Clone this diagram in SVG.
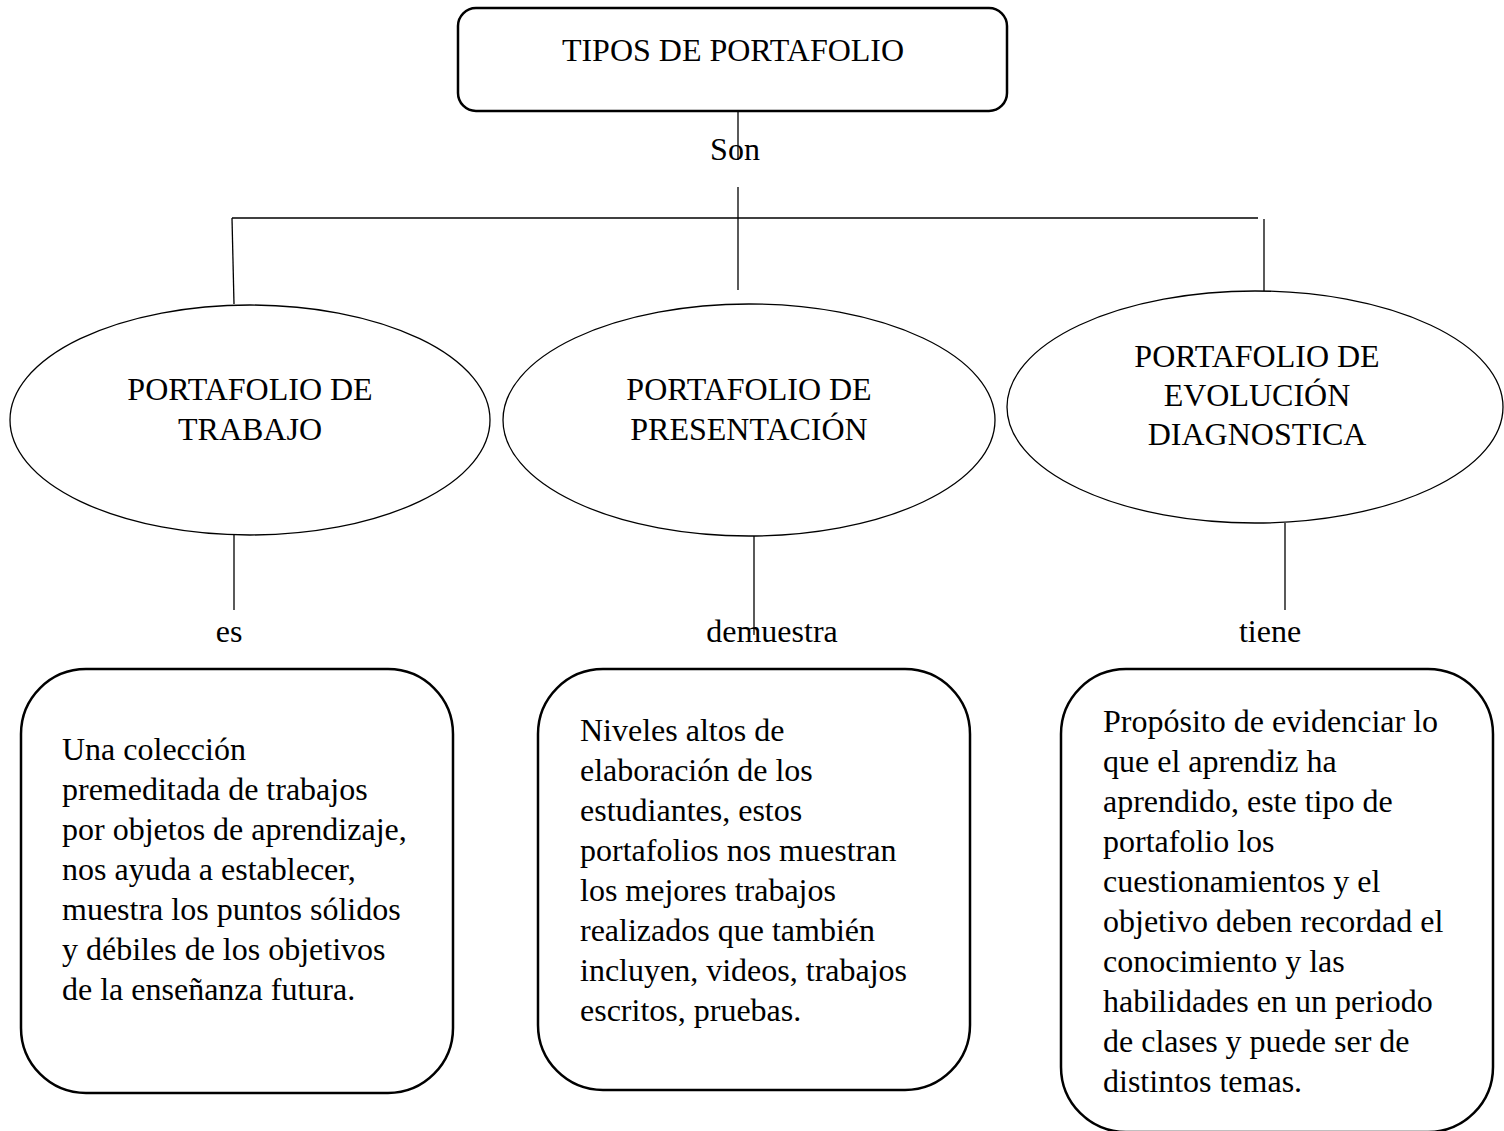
<svg xmlns="http://www.w3.org/2000/svg" width="1504" height="1131" viewBox="0 0 1504 1131">
<style>
text{font-family:"Liberation Serif","Times New Roman",serif;font-size:32px;fill:#000}
.c{text-anchor:middle}
.box{fill:#fff;stroke:#000;stroke-width:2.5}
.ell{fill:#fff;stroke:#000;stroke-width:1.3}
.ln{stroke:#000;stroke-width:1.3;fill:none}
</style>
<rect width="1504" height="1131" fill="#fff"/>
<g id="connectors">
<line class="ln" x1="738" y1="112" x2="738" y2="160"/>
<line class="ln" x1="738" y1="187" x2="738" y2="290"/>
<line class="ln" x1="232" y1="218" x2="1258" y2="218"/>
<line class="ln" x1="232" y1="218" x2="234" y2="304"/>
<line class="ln" x1="1264" y1="219" x2="1264" y2="291"/>
<line class="ln" x1="234" y1="535" x2="234" y2="610"/>
<line class="ln" x1="754" y1="536" x2="754" y2="635"/>
<line class="ln" x1="1285" y1="523" x2="1285" y2="610"/>
<text class="c" x="735" y="160">Son</text>
<text class="c" x="229" y="642">es</text>
<text class="c" x="772" y="642">demuestra</text>
<text class="c" x="1270" y="642">tiene</text>
</g>
<g id="root">
<rect class="box" x="458" y="8" width="549" height="103" rx="18"/>
<text class="c" x="733" y="61">TIPOS DE PORTAFOLIO</text>
</g>
<g id="trabajo">
<ellipse class="ell" cx="250" cy="420" rx="240" ry="115"/>
<text class="c" x="250" y="400">PORTAFOLIO DE</text>
<text class="c" x="250" y="440">TRABAJO</text>
</g>
<g id="presentacion">
<ellipse class="ell" cx="749" cy="420" rx="246" ry="116"/>
<text class="c" x="749" y="400">PORTAFOLIO DE</text>
<text class="c" x="749" y="440">PRESENTACIÓN</text>
</g>
<g id="evolucion">
<ellipse class="ell" cx="1255" cy="407" rx="248" ry="116"/>
<text class="c" x="1257" y="367">PORTAFOLIO DE</text>
<text class="c" x="1257" y="406">EVOLUCIÓN</text>
<text class="c" x="1257" y="445">DIAGNOSTICA</text>
</g>
<g id="desc-trabajo">
<rect class="box" x="21" y="669" width="432" height="424" rx="65"/>
<text x="62" y="760">Una colección</text>
<text x="62" y="800">premeditada de trabajos</text>
<text x="62" y="840">por objetos de aprendizaje,</text>
<text x="62" y="880">nos ayuda a establecer,</text>
<text x="62" y="920">muestra los puntos sólidos</text>
<text x="62" y="960">y débiles de los objetivos</text>
<text x="62" y="1000">de la enseñanza futura.</text>
</g>
<g id="desc-presentacion">
<rect class="box" x="538" y="669" width="432" height="421" rx="65"/>
<text x="580" y="741">Niveles altos de</text>
<text x="580" y="781">elaboración de los</text>
<text x="580" y="821">estudiantes, estos</text>
<text x="580" y="861">portafolios nos muestran</text>
<text x="580" y="901">los mejores trabajos</text>
<text x="580" y="941">realizados que también</text>
<text x="580" y="981">incluyen, videos, trabajos</text>
<text x="580" y="1021">escritos, pruebas.</text>
</g>
<g id="desc-evolucion">
<rect class="box" x="1061" y="669" width="432" height="463" rx="65"/>
<text x="1103" y="732">Propósito de evidenciar lo</text>
<text x="1103" y="772">que el aprendiz ha</text>
<text x="1103" y="812">aprendido, este tipo de</text>
<text x="1103" y="852">portafolio los</text>
<text x="1103" y="892">cuestionamientos y el</text>
<text x="1103" y="932">objetivo deben recordad el</text>
<text x="1103" y="972">conocimiento y las</text>
<text x="1103" y="1012">habilidades en un periodo</text>
<text x="1103" y="1052">de clases y puede ser de</text>
<text x="1103" y="1092">distintos temas.</text>
</g>
</svg>
